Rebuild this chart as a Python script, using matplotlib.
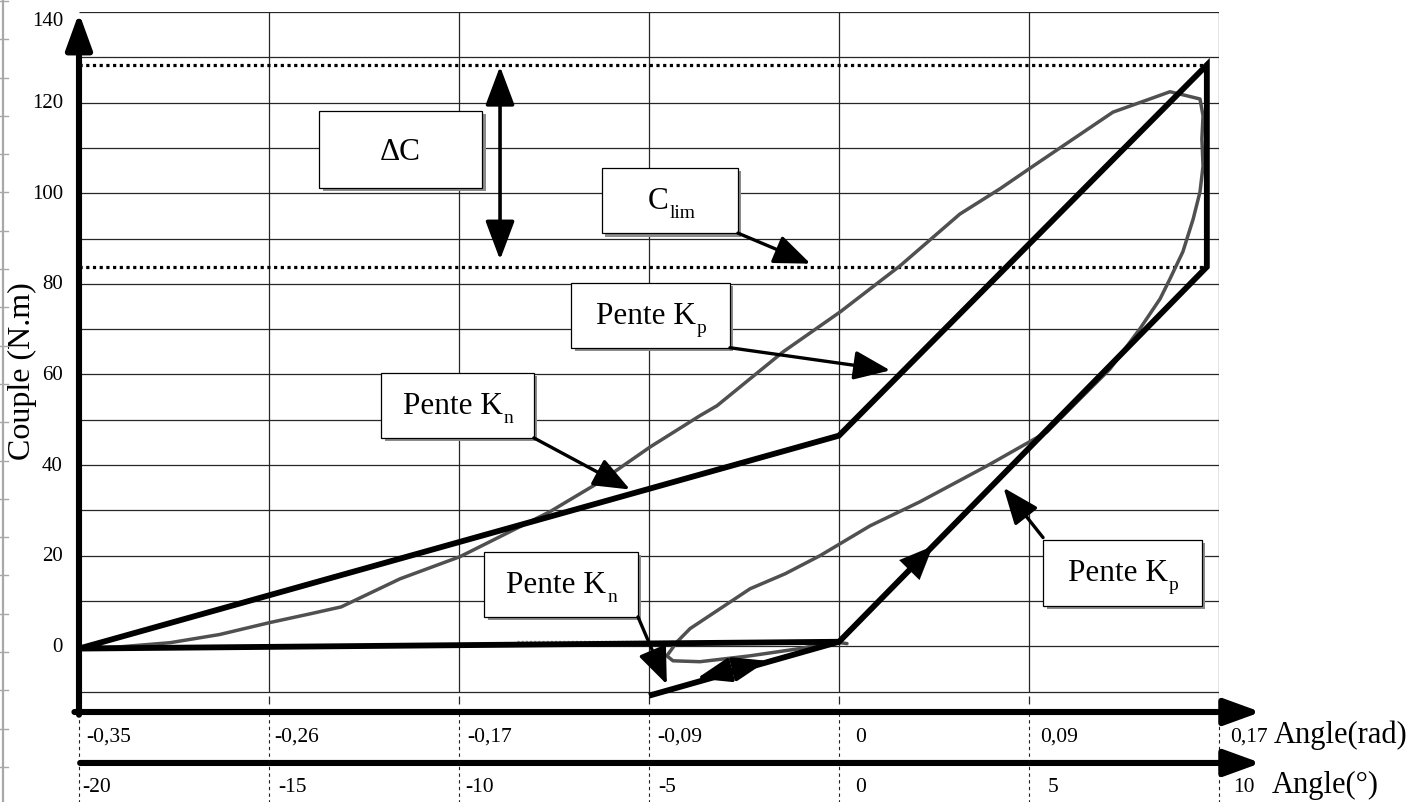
import numpy as np
import matplotlib
matplotlib.use("Agg")
import matplotlib.pyplot as plt
from matplotlib.patches import FancyArrowPatch, Rectangle
from matplotlib.lines import Line2D

plt.rcParams['font.family'] = ['Liberation Serif', 'DejaVu Serif']

# ---- measured torque / twist loop (angle in degrees, torque in N.m) ----
meas_angle = [-20.0, -18.9, -17.6, -16.3, -15.0, -13.9, -13.1, -11.55,
              -9.97, -7.61, -6.29, -4.97, -3.66, -3.21, -1.47, 0.03, 1.61,
              3.18, 4.24, 5.11, 7.21, 8.18, 8.71, 9.16, 9.50, 9.58, 9.55,
              9.58, 9.50, 9.32, 9.05, 8.71, 8.45, 7.92, 7.13, 6.34, 5.47,
              3.89, 2.13, 0.82, -0.50, -1.42, -2.34, -3.13, -3.92, -4.26,
              -4.53, -4.37, -3.66, -2.34, -1.03, -0.16, 0.21]
meas_torque = [-0.5, -0.1, 0.8, 2.6, 5.2, 7.2, 8.7, 14.9,
               19.8, 29.7, 36.3, 44.0, 50.9, 53.1, 65.0, 73.8, 84.0,
               95.4, 101.0, 106.0, 117.9, 120.8, 122.4, 121.5, 120.8, 117.1, 112.0,
               106.0, 100.3, 94.3, 87.1, 81.1, 76.7, 70.1, 61.2, 54.6, 47.3,
               39.8, 31.9, 26.6, 20.0, 16.0, 12.7, 8.3, 3.9, 1.0,
               -2.1, -3.2, -3.4, -2.1, -0.5, 1.0, 0.6]

# faint zero trace of the recorder
zero_angle = [-8.47, 0.0]
zero_torque = [1.25, 1.25]

# ---- bilinear model ----
model_angle = [-20.0, 0.0, 9.68, 9.68, 0.0, -20.0]
model_torque = [-0.5, 46.5, 128.3, 83.75, 1.0, -0.5]
unload_angle = [0.0, -5.0]
unload_torque = [1.0, -10.9]

c_max = 128.3
c_lim = 83.75

deg_ticks = [-20, -15, -10, -5, 0, 5, 10]
deg_labels = ['-20', '-15', '-10', '-5', '0', '5', '10']
rad_labels = ['-0,35', '-0,26', '-0,17', '-0,09', '0', '0,09', '0,17']
torque_ticks = [0, 20, 40, 60, 80, 100, 120, 140]

W, H = 1413, 803
fig = plt.figure(figsize=(W / 100, H / 100), dpi=100)
ax = fig.add_axes([79 / W, 90 / H, 1140 / W, 700 / H])
X0, X1, Y0, Y1 = -20, 10, -14.5, 140
ax.set_xlim(X0, X1)
ax.set_ylim(Y0, Y1)
ax.axis('off')
PX = 1140 / (X1 - X0)      # pixels per degree
PY = 700 / (Y1 - Y0)       # pixels per N.m

# grid
grid_kw = dict(color='#262626', lw=0.9, zorder=1)
ax.hlines(np.arange(-10, 141, 10), X0, X1, **grid_kw)
ax.vlines(deg_ticks[1:-1], -10, 140, **grid_kw)
ax.vlines([X1], -12.8, 140, **grid_kw)
ax.vlines(deg_ticks[1:-1], -12.8, -11.0, **grid_kw)

# dashed drop lines under the axis
dl = ax.vlines(deg_ticks, -34.5, -14.5, color='#222222', lw=0.8,
               linestyles=(0, (3, 3)), zorder=1)
dl.set_clip_on(False)

# dotted torque levels
for lvl in (c_max, c_lim):
    ax.plot([X0, 9.58], [lvl, lvl], color='black', lw=2.3,
            linestyle=(0, (1, 1.1)), dash_capstyle='butt', zorder=2)

# measured loop
ax.plot(zero_angle, zero_torque, color='#9a9a9a', lw=1.0,
        linestyle=(0, (1.5, 1.5)), zorder=2)
ax.plot(meas_angle, meas_torque, color='#505050', lw=2.5,
        solid_joinstyle='round', solid_capstyle='round', zorder=3)

# bilinear model
ax.plot(model_angle, model_torque, color='black', lw=4.2,
        solid_joinstyle='miter', zorder=4)
ax.plot(unload_angle, unload_torque, color='black', lw=4.2,
        solid_capstyle='butt', zorder=4)


def arrow(p0, p1, style, lw, scale, z=6):
    a = FancyArrowPatch(p0, p1, arrowstyle=style, mutation_scale=scale,
                        lw=lw, color='black', shrinkA=0, shrinkB=0,
                        zorder=z, clip_on=False, joinstyle='round')
    ax.add_patch(a)


# axes arrows
ax_style = '-|>,head_length=0.55,head_width=0.2'
arrow((X0 - 0.12, Y0), (11.1, Y0), ax_style, 4.4, 40)
arrow((X0 + 0.03, -25.75), (11.1, -25.75), ax_style, 4.4, 40)
arrow((X0, Y0 - 0.6), (X0, 139.8), ax_style, 4.4, 40)

# delta C double arrow
arrow((-8.92, 85.3), (-8.92, 128.0), '<|-|>,head_length=0.8,head_width=0.3',
      2.6, 30)

# direction arrows on the unloading branches
lp = lambda d: 1.0 + d * (83.75 - 1.0) / 9.68
arrow((1.4, lp(1.4)), (2.47, lp(2.47)), '-|>,head_length=0.8,head_width=0.34',
      0.1, 30)
arrow((-3.74, -7.1), (-1.89, -3.2), '<|-|>,head_length=0.75,head_width=0.27',
      2.6, 28)

# annotation boxes: extent, main text, subscript
boxes = [
    ((-13.68, 101.2, -9.39, 118.2), 'ΔC', ''),
    ((-6.24, 91.2, -2.66, 105.6), 'C', 'lim'),
    ((-7.05, 65.9, -2.87, 80.2), 'Pente K', 'p'),
    ((-12.05, 46.0, -8.03, 60.4), 'Pente K', 'n'),
    ((-9.34, 6.5, -5.29, 20.9), 'Pente K', 'n'),
    ((5.37, 9.0, 9.55, 23.5), 'Pente K', 'p'),
]
sub_w = {'': 0, 'p': 10, 'n': 10, 'lim': 24}
sx, sy = 3.5 / PX, 3.5 / PY
for (x0, y0, x1, y1), main, sub in boxes:
    ax.add_patch(Rectangle((x0 + sx, y0 - sy), x1 - x0, y1 - y0,
                           facecolor='#8c8c8c', edgecolor='none', zorder=5))
    ax.add_patch(Rectangle((x0, y0), x1 - x0, y1 - y0, facecolor='white',
                           edgecolor='black', lw=0.9, zorder=5))
    cx = (x0 + x1) / 2 - sub_w[sub] / 2 / PX
    dy = 0.0 if sub else -0.4
    t = ax.text(cx, (y0 + y1) / 2 + dy, main, ha='center', va='center',
                fontsize=22.5, zorder=6)
    if sub:
        ax.annotate(sub, xy=(1.0, 0.0), xycoords=t, xytext=(1.0, -1.5),
                    textcoords='offset points', ha='left', va='baseline',
                    fontsize=14, zorder=6)

leader = '-|>,head_length=0.8,head_width=0.32'
arrow((-2.66, 91.2), (-0.75, 84.45), leader, 2.4, 28)
arrow((-2.87, 65.9), (1.35, 60.9), leader, 2.4, 28)
arrow((-8.03, 46.0), (-5.5, 34.6), leader, 2.4, 28)
arrow((-5.29, 6.5), (-4.53, -8.4), leader, 2.4, 28)
arrow((5.37, 24.0), (4.33, 35.0), leader, 2.4, 28)

# torque labels
for v in torque_ticks:
    yy = v if v < 140 else 138.2
    ax.text(X0 - 16 / PX, yy, str(v), ha='right', va='center', fontsize=15,
            clip_on=False)
ax.text(-20 - 57 / PX, 61.0, 'Couple (N.m)', rotation=90, ha='center',
        va='center', fontsize=23, clip_on=False)

# angle labels (rad row, degree row)
rad_off = [7, 5, 8, 8, 16, 11, 11]
deg_off = [3, 9, 6, 9, 16, 19, 14]
for d, lab, o in zip(deg_ticks, rad_labels, rad_off):
    ax.text(d + o / PX, -19.9, lab, ha='left', va='center', fontsize=15.5,
            clip_on=False)
for d, lab, o in zip(deg_ticks, deg_labels, deg_off):
    ax.text(d + o / PX, -31.0, lab, ha='left', va='center', fontsize=15.5,
            clip_on=False)
ax.text(10 + 55 / PX, -19.4, 'Angle(rad)', ha='left', va='center',
        fontsize=22, clip_on=False)
ax.text(10 + 53 / PX, -30.6, 'Angle(°)', ha='left', va='center',
        fontsize=22, clip_on=False)

# ruler strip along the left edge
fig.add_artist(Line2D([3 / W, 3 / W], [0, 1], transform=fig.transFigure,
                      color='#a8a8a8', lw=1.6))
for yp in np.arange(270 % 38.3, H, 38.3):
    fig.add_artist(Line2D([0, 8 / W], [1 - yp / H] * 2,
                          transform=fig.transFigure, color='#a8a8a8', lw=1.0))

fig.savefig('out.png', dpi=100, facecolor='white')
